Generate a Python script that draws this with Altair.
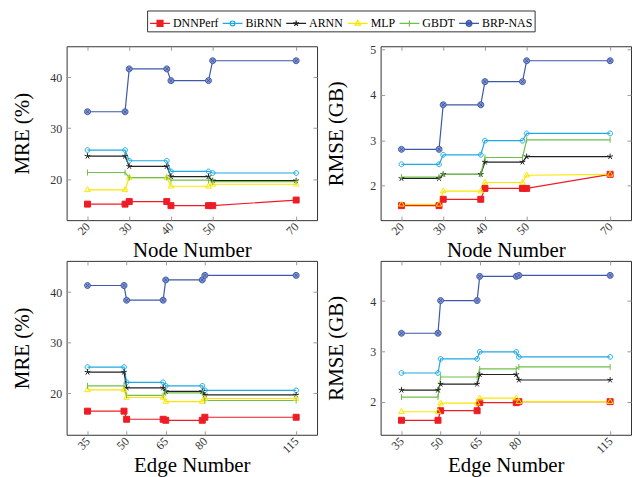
import altair as alt
import pandas as pd

SERIF = "Liberation Serif"
W, H = 252, 175

SERIES = ["DNNPerf", "BiRNN", "ARNN", "MLP", "GBDT", "BRP-NAS"]
COLORS = ["#ee1c25", "#1fa9e5", "#222222", "#fce600", "#6fc04a", "#3d58a8"]
FILLS = ["#ee1c25", "transparent", "#222222", "transparent", "transparent", "#8799d0"]

# marker outlines in unit coordinates
SHAPES = [
    "M-1,-1H1V1H-1Z",
    "M-0.8,0A0.8,0.8 0 1,0 0.8,0A0.8,0.8 0 1,0 -0.8,0Z",
    "M0,0L0,-1M0,0L0.951,-0.309M0,0L0.588,0.809M0,0L-0.588,0.809M0,0L-0.951,-0.309",
    "M0,-1.05L0.95,0.6L-0.95,0.6Z",
    "M0,-1V1",
    "M-1,0A1,1 0 1,0 1,0A1,1 0 1,0 -1,0ZM-0.7,-0.7L0.7,0.7M-0.7,0.7L0.7,-0.7",
]
LEGEND_SHAPES = [
    "M-1,0H1M-0.3,-0.3H0.3V0.3H-0.3Z",
    "M-1,0H1M-0.24,0A0.24,0.24 0 1,0 0.24,0A0.24,0.24 0 1,0 -0.24,0Z",
    "M-1,0H1M0,0L0,-0.3M0,0L0.285,-0.093M0,0L0.176,0.243M0,0L-0.176,0.243M0,0L-0.285,-0.093",
    "M-1,0H1M0,-0.32L0.29,0.18L-0.29,0.18Z",
    "M-1,0H1M0,-0.3V0.3",
    "M-1,0H1M-0.3,0A0.3,0.3 0 1,0 0.3,0A0.3,0.3 0 1,0 -0.3,0ZM-0.21,-0.21L0.21,0.21M-0.21,0.21L0.21,-0.21",
]

X_NODE = [20, 29, 30, 39, 40, 49, 50, 70]
X_EDGE = [35, 49, 50, 64, 65, 79, 80, 115]
XTICKS_NODE = [20, 30, 40, 50, 70]
XTICKS_EDGE = [35, 50, 65, 80, 115]

MRE_NODE = {
    "DNNPerf": [15.1, 15.1, 15.6, 15.6, 14.8, 14.8, 14.8, 15.9],
    "BiRNN": [25.7, 25.7, 23.6, 23.6, 21.5, 21.5, 21.2, 21.2],
    "ARNN": [24.5, 24.5, 22.5, 22.5, 20.5, 20.5, 19.7, 19.7],
    "MLP": [17.9, 17.9, 20.3, 20.3, 18.6, 18.6, 19.0, 19.0],
    "GBDT": [21.3, 21.3, 20.3, 20.3, 19.8, 19.8, 19.5, 19.5],
    "BRP-NAS": [33.2, 33.2, 41.6, 41.6, 39.3, 39.3, 43.2, 43.2],
}
RMSE_NODE = {
    "DNNPerf": [1.56, 1.56, 1.70, 1.70, 1.94, 1.94, 1.94, 2.25],
    "BiRNN": [2.47, 2.47, 2.68, 2.68, 2.99, 2.99, 3.15, 3.15],
    "ARNN": [2.16, 2.16, 2.25, 2.25, 2.52, 2.52, 2.64, 2.64],
    "MLP": [1.59, 1.59, 1.88, 1.88, 2.07, 2.07, 2.23, 2.25],
    "GBDT": [2.19, 2.19, 2.25, 2.25, 2.62, 2.62, 3.01, 3.01],
    "BRP-NAS": [2.80, 2.80, 3.78, 3.78, 4.29, 4.29, 4.75, 4.75],
}
MRE_EDGE = {
    "DNNPerf": [16.5, 16.5, 14.9, 14.9, 14.7, 14.7, 15.3, 15.3],
    "BiRNN": [25.2, 25.2, 22.2, 22.2, 21.5, 21.5, 20.6, 20.6],
    "ARNN": [24.2, 24.2, 21.1, 21.1, 20.4, 20.4, 19.7, 19.7],
    "MLP": [20.7, 20.7, 19.2, 19.2, 18.4, 18.4, 19.0, 19.0],
    "GBDT": [21.5, 21.5, 19.6, 19.6, 20.1, 20.1, 18.6, 18.6],
    "BRP-NAS": [41.3, 41.3, 38.4, 38.4, 42.4, 42.4, 43.3, 43.3],
}
RMSE_EDGE = {
    "DNNPerf": [1.63, 1.63, 1.82, 1.82, 1.98, 1.98, 2.00, 2.00],
    "BiRNN": [2.57, 2.57, 2.85, 2.85, 2.99, 2.99, 2.89, 2.89],
    "ARNN": [2.23, 2.23, 2.35, 2.35, 2.54, 2.54, 2.43, 2.43],
    "MLP": [1.80, 1.80, 1.97, 1.97, 2.07, 2.07, 2.00, 2.00],
    "GBDT": [2.09, 2.09, 2.49, 2.49, 2.65, 2.65, 2.69, 2.69],
    "BRP-NAS": [3.36, 3.36, 4.01, 4.01, 4.49, 4.49, 4.51, 4.51],
}

LEGEND = alt.Legend(
    title=None, orient="none", legendX=81, legendY=-36,
    direction="horizontal", columns=6,
    symbolSize=400, symbolStrokeWidth=1.2,
    labelFont=SERIF, labelFontSize=12, labelColor="black",
    labelOffset=2, columnPadding=1, padding=2,
    strokeColor="#333", fillColor="white",
)
COLOR_SCALE = alt.Scale(domain=SERIES, range=COLORS)


def panel(xs, table, xdom, xticks, yticks, xtitle, ytitle):
    rows = [dict(x=x, y=v, series=s) for s in SERIES for x, v in zip(xs, table[s])]
    df = pd.DataFrame(rows)
    allv = [v for s in SERIES for v in table[s]]
    lo, hi = min(allv), max(allv)
    pad = (hi - lo) * 0.1
    x = alt.X("x:Q", scale=alt.Scale(domain=xdom, nice=False, zero=False),
              axis=alt.Axis(values=xticks, title=xtitle, labelAngle=315,
                            labelAlign="right", labelBaseline="middle",
                            labelPadding=4, labelFlush=False, labelOverlap=False,
                            ticks=False, domain=False, grid=True,
                            gridDash=[4, H - 8], gridColor="#999", gridWidth=1,
                            titleX=W / 2, titleY=37, titleBaseline="alphabetic"))
    y = alt.Y("y:Q", scale=alt.Scale(domain=[lo - pad, hi + pad], nice=False, zero=False),
              axis=alt.Axis(values=yticks, title=ytitle, labelPadding=5,
                            labelOverlap=False,
                            ticks=False, domain=False, grid=True,
                            gridDash=[4, W - 8], gridColor="#999", gridWidth=1,
                            titleX=-38, titleY=H / 2, titleBaseline="alphabetic"))
    base = alt.Chart(df)
    lines = base.mark_line(strokeWidth=1.2).encode(
        x=x, y=y,
        color=alt.Color("series:N", scale=COLOR_SCALE, legend=LEGEND),
    )
    layers = [lines]
    for s, c, f, shp in zip(SERIES, COLORS, FILLS, SHAPES):
        layers.append(
            base.transform_filter(alt.datum.series == s)
            .mark_point(shape=shp, size=36, stroke=c, fill=f, strokeWidth=1, opacity=1)
            .encode(x=x, y=y)
        )
    # legend carrier: the same rows, drawn fully transparent
    legend_layer = base.mark_point(opacity=1, strokeOpacity=0, fillOpacity=0).encode(
        x=x, y=y,
        color=alt.Color("series:N", scale=COLOR_SCALE, legend=LEGEND),
        shape=alt.Shape("series:N", scale=alt.Scale(domain=SERIES, range=LEGEND_SHAPES), legend=LEGEND),
        fill=alt.Fill("series:N", scale=alt.Scale(domain=SERIES, range=FILLS), legend=LEGEND),
    )
    layers.append(legend_layer)
    return alt.layer(*layers).properties(width=W, height=H)


tl = panel(X_NODE, MRE_NODE, [15, 75], XTICKS_NODE, [20, 30, 40], "Node Number", "MRE (%)")
tr = panel(X_NODE, RMSE_NODE, [15, 75], XTICKS_NODE, [2, 3, 4, 5], "Node Number", "RMSE (GB)")
bl = panel(X_EDGE, MRE_EDGE, [27, 123], XTICKS_EDGE, [20, 30, 40], "Edge Number", "MRE (%)")
br = panel(X_EDGE, RMSE_EDGE, [27, 123], XTICKS_EDGE, [2, 3, 4], "Edge Number", "RMSE (GB)")

chart = alt.concat(
    tl, tr, bl, br, columns=2,
    spacing={"row": 41, "column": 64}, bounds="flush",
).properties(
    padding={"left": 3, "top": 0, "right": 0, "bottom": 0},
).configure_view(
    stroke="#333", strokeWidth=1,
).configure_axis(
    labelFont=SERIF, labelFontSize=12, labelColor="#333",
    titleFont=SERIF, titleFontSize=21, titleFontWeight="normal", titleColor="black",
)

chart.save("out.html", embed_options={"renderer": "svg", "actions": False})
